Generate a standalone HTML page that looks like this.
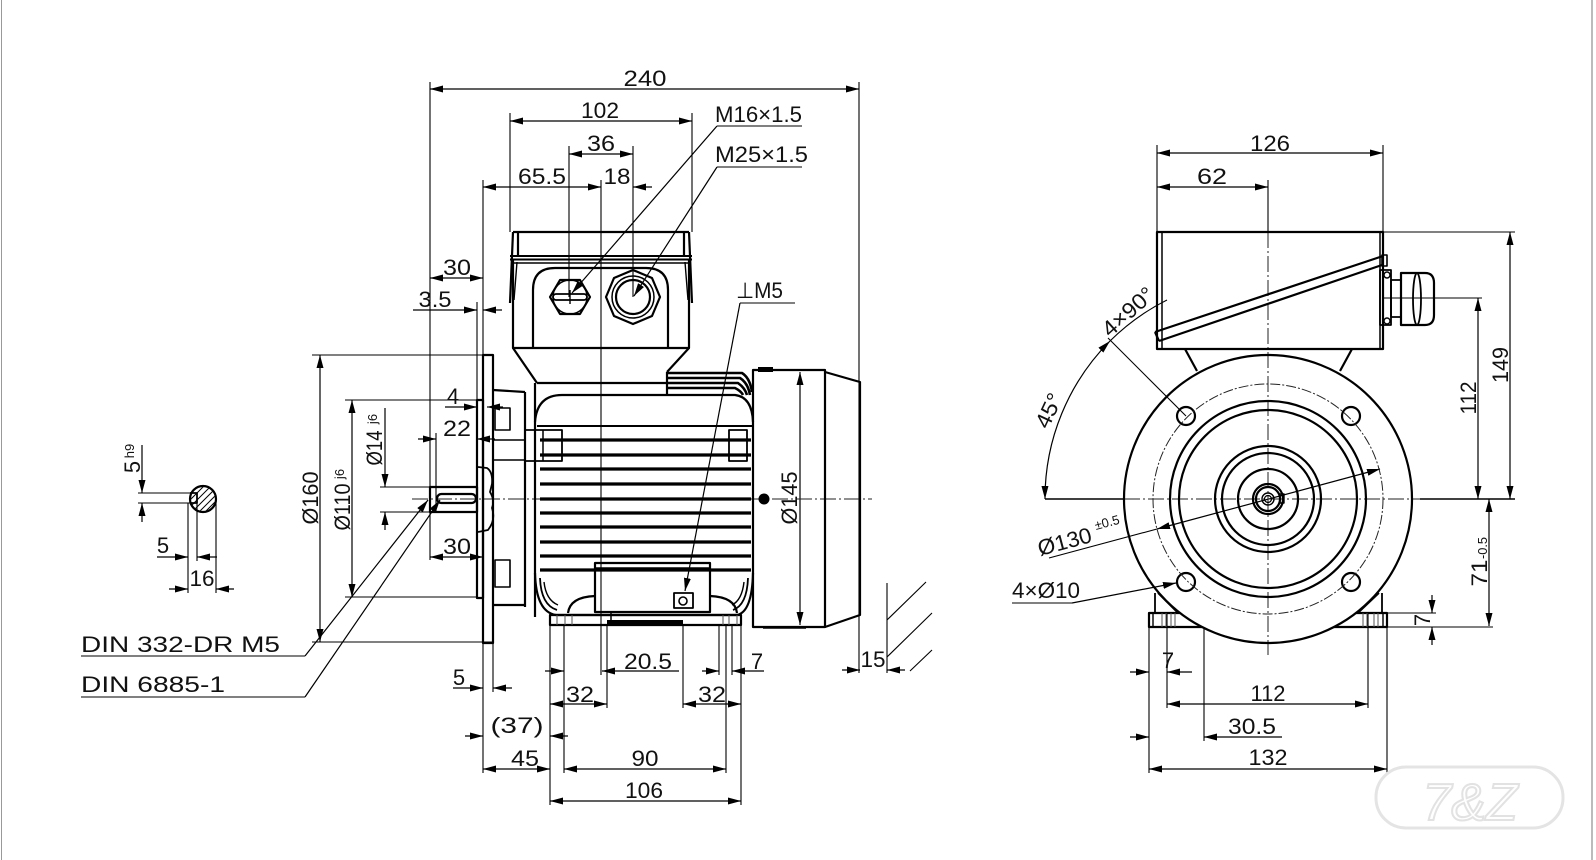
<!DOCTYPE html>
<html><head><meta charset="utf-8"><style>
html,body{margin:0;padding:0;background:#fff;}
svg{display:block;}
text{font-family:"Liberation Sans","DejaVu Sans",sans-serif;font-size:22px;fill:#111;}
.s{font-size:13px;}
</style></head><body>
<svg width="1596" height="860" viewBox="0 0 1596 860" xmlns="http://www.w3.org/2000/svg">
<defs>
<marker id="a" markerUnits="userSpaceOnUse" markerWidth="14" markerHeight="8" refX="13" refY="3.5" orient="auto-start-reverse"><path d="M0,0 L13,3.5 L0,7 z" fill="#000"/></marker>
<clipPath id="kc"><circle cx="203" cy="499" r="12"/></clipPath>
</defs>
<rect width="1596" height="860" fill="#fff"/>
<line x1="1.5" y1="0" x2="1.5" y2="860" stroke="#999" stroke-width="1"/>
<line x1="1592" y1="0" x2="1592" y2="860" stroke="#777" stroke-width="1"/>

<!-- ===== thin dimension lines with both arrows ===== -->
<g stroke="#000" stroke-width="1.2" fill="none" marker-start="url(#a)" marker-end="url(#a)">
<line x1="430" y1="89" x2="859" y2="89"/>
<line x1="510" y1="121" x2="692" y2="121"/>
<line x1="569" y1="154" x2="633" y2="154"/>
<line x1="483" y1="187" x2="601" y2="187"/>
<line x1="430" y1="278" x2="483" y2="278"/>
<line x1="320" y1="355" x2="320" y2="642"/>
<line x1="352" y1="400" x2="352" y2="597"/>
<line x1="430" y1="557" x2="483" y2="557"/>
<line x1="800" y1="372" x2="800" y2="625"/>
<line x1="550" y1="704" x2="607" y2="704"/>
<line x1="683" y1="704" x2="741" y2="704"/>
<line x1="483" y1="769" x2="550" y2="769"/>
<line x1="564" y1="769" x2="726" y2="769"/>
<line x1="550" y1="801" x2="741" y2="801"/>
<line x1="1157" y1="153" x2="1383" y2="153"/>
<line x1="1157" y1="187" x2="1268" y2="187"/>
<line x1="1510" y1="232" x2="1510" y2="499"/>
<line x1="1478" y1="298" x2="1478" y2="499"/>
<line x1="1489" y1="499" x2="1489" y2="626"/>
<line x1="1167" y1="704" x2="1368" y2="704"/>
<line x1="1149" y1="769" x2="1387" y2="769"/>
<line x1="1157" y1="529" x2="1380" y2="469"/>
<path d="M1110,341 A223,223 0 0 0 1045,499"/>
</g>

<!-- ===== single arrows ===== -->
<g stroke="#000" stroke-width="1.2" fill="none" marker-end="url(#a)">
<line x1="652" y1="187" x2="633" y2="187"/>
<line x1="413" y1="310" x2="477" y2="310"/>
<line x1="502" y1="310" x2="483" y2="310"/>
<line x1="445" y1="407" x2="477" y2="407"/>
<line x1="503" y1="407" x2="487" y2="407"/>
<line x1="418" y1="439" x2="436" y2="439"/>
<line x1="495" y1="439" x2="477" y2="439"/>
<line x1="385" y1="408" x2="385" y2="487"/>
<line x1="385" y1="530" x2="385" y2="512"/>
<line x1="453" y1="688" x2="483" y2="688"/>
<line x1="512" y1="688" x2="493" y2="688"/>
<line x1="545" y1="671" x2="564" y2="671"/>
<line x1="679" y1="671" x2="602" y2="671"/>
<line x1="702" y1="671" x2="719" y2="671"/>
<line x1="764" y1="671" x2="732" y2="671"/>
<line x1="465" y1="736" x2="483" y2="736"/>
<line x1="568" y1="736" x2="550" y2="736"/>
<line x1="842" y1="670" x2="860" y2="670"/>
<line x1="905" y1="670" x2="887" y2="670"/>
<line x1="717" y1="126" x2="572" y2="293"/>
<line x1="717" y1="167" x2="634" y2="296"/>
<line x1="740" y1="303" x2="685" y2="591"/>
<line x1="305" y1="656" x2="428" y2="500"/>
<line x1="305" y1="697" x2="440" y2="500"/>
<line x1="142" y1="445" x2="142" y2="493"/>
<line x1="142" y1="522" x2="142" y2="503"/>
<line x1="157" y1="557" x2="188" y2="557"/>
<line x1="217" y1="557" x2="197" y2="557"/>
<line x1="169" y1="589" x2="188" y2="589"/>
<line x1="234" y1="589" x2="216" y2="589"/>
<line x1="1432" y1="595" x2="1432" y2="613"/>
<line x1="1432" y1="645" x2="1432" y2="627"/>
<line x1="1130" y1="672" x2="1149" y2="672"/>
<line x1="1192" y1="672" x2="1167" y2="672"/>
<line x1="1130" y1="737" x2="1149" y2="737"/>
<line x1="1282" y1="737" x2="1204" y2="737"/>
<line x1="1072" y1="603" x2="1176" y2="583"/>
</g>

<!-- ===== plain thin lines (extension, leaders) ===== -->
<g stroke="#000" stroke-width="1.1" fill="none">
<line x1="430" y1="82" x2="430" y2="560"/>
<line x1="859" y1="82" x2="859" y2="673"/>
<line x1="510" y1="113" x2="510" y2="232"/>
<line x1="692" y1="113" x2="692" y2="232"/>
<line x1="569" y1="146" x2="569" y2="297"/>
<line x1="633" y1="146" x2="633" y2="297"/>
<line x1="483" y1="180" x2="483" y2="355"/>
<line x1="601" y1="180" x2="601" y2="675"/>
<line x1="477" y1="302" x2="477" y2="400"/>
<line x1="312" y1="355" x2="483" y2="355"/>
<line x1="312" y1="642" x2="493" y2="642"/>
<line x1="345" y1="400" x2="477" y2="400"/>
<line x1="345" y1="597" x2="477" y2="597"/>
<line x1="380" y1="487" x2="430" y2="487"/>
<line x1="380" y1="512" x2="430" y2="512"/>
<line x1="436" y1="433" x2="436" y2="513"/>
<line x1="483" y1="643" x2="483" y2="773"/>
<line x1="493" y1="643" x2="493" y2="692"/>
<line x1="550" y1="625" x2="550" y2="805"/>
<line x1="564" y1="625" x2="564" y2="773"/>
<line x1="726" y1="625" x2="726" y2="773"/>
<line x1="741" y1="625" x2="741" y2="805"/>
<line x1="607" y1="625" x2="607" y2="708"/>
<line x1="683" y1="625" x2="683" y2="708"/>
<line x1="719" y1="625" x2="719" y2="675"/>
<line x1="732" y1="625" x2="732" y2="675"/>
<line x1="887" y1="583" x2="887" y2="673"/>
<line x1="763" y1="628" x2="806" y2="628" stroke-width="1.6"/>
<line x1="717" y1="126" x2="802" y2="126"/>
<line x1="717" y1="167" x2="802" y2="167"/>
<line x1="740" y1="303" x2="795" y2="303"/>
<line x1="81" y1="656" x2="305" y2="656"/>
<line x1="81" y1="697" x2="305" y2="697"/>
<line x1="887" y1="620" x2="926" y2="582"/>
<line x1="887" y1="657" x2="932" y2="613"/>
<line x1="910" y1="671" x2="932" y2="650"/>
<line x1="138" y1="493" x2="190" y2="493"/>
<line x1="138" y1="503" x2="190" y2="503"/>
<line x1="188" y1="503" x2="188" y2="593"/>
<line x1="197" y1="503" x2="197" y2="561"/>
<line x1="216" y1="499" x2="216" y2="593"/>
<!-- right view -->
<line x1="1157" y1="145" x2="1157" y2="232"/>
<line x1="1383" y1="145" x2="1383" y2="232"/>
<line x1="1268" y1="180" x2="1268" y2="232"/>
<line x1="1383" y1="232" x2="1515" y2="232"/>
<line x1="1383" y1="298" x2="1482" y2="298"/>
<line x1="1387" y1="613" x2="1436" y2="613"/>
<line x1="1387" y1="627" x2="1493" y2="627"/>
<line x1="1149" y1="627" x2="1149" y2="773"/>
<line x1="1387" y1="627" x2="1387" y2="773"/>
<line x1="1167" y1="613" x2="1167" y2="708"/>
<line x1="1368" y1="613" x2="1368" y2="708"/>
<line x1="1204" y1="628" x2="1204" y2="741"/>
<line x1="1012" y1="603" x2="1072" y2="603"/>
<line x1="1049" y1="558" x2="1157" y2="529"/>
<line x1="1186" y1="416" x2="1108" y2="338"/>
<path d="M1167,300 A223,223 0 0 0 1110,341"/>
<line x1="1045" y1="499" x2="1124" y2="499" stroke-width="1.6"/>
<line x1="1420" y1="499" x2="1515" y2="499" stroke-width="1.6"/>
</g>

<!-- centerlines -->
<g stroke="#222" stroke-width="1" fill="none" stroke-dasharray="16 3 2 3">
<line x1="412" y1="499" x2="872" y2="499"/>
<line x1="1124" y1="499" x2="1420" y2="499"/>
<line x1="1268" y1="232" x2="1268" y2="655"/>
</g>

<!-- ===== LEFT VIEW thick outlines ===== -->
<g stroke="#000" stroke-width="2.2" fill="none" stroke-linejoin="round">
<!-- terminal box lid -->
<path d="M513,232 L689,232 M513,232 L510,303 M689,232 L692,303 M518,233 L518,257 M684,233 L684,257"/>
<path d="M510,256 L692,256 M510,259.5 L692,259.5" stroke-width="2"/>
<path d="M517,262 L514,300 M685,262 L688,300" stroke-width="1.4"/>
<line x1="513" y1="263" x2="689" y2="263" stroke-width="1.4"/>
<path d="M513,259 L513,348 L689,348 L689,259"/>
<path d="M533,348 L533,290 Q533,268 555,268 L646,268 Q668,268 668,290 L668,348"/>
<!-- M16 gland -->
<polygon points="590,297 580,314 560,314 550,297 560,280 580,280"/>
<circle cx="570" cy="297" r="17" stroke-width="1.4"/>
<rect x="553" y="294" width="34" height="6" rx="3" stroke-width="1.8"/>
<line x1="570" y1="290" x2="570" y2="304" stroke-width="1.4"/>
<!-- M25 gland -->
<polygon points="660,297 652,316 633,324 614,316 606,297 614,278 633,270 652,278" stroke-linejoin="round"/>
<circle cx="633" cy="297" r="21" stroke-width="1.5"/>
<circle cx="633" cy="297" r="17"/>
<!-- transition -->
<path d="M513,348 L537,383 M689,348 L667,372 M537,383 L667,383"/>
<!-- dark block near fan -->
<path d="M667,372 L667,395" />
<path d="M667,373 L742,373 Q750,378 752,392 M667,378 L740,378 Q748,383 750,395 M667,383 L738,383 Q745,388 747,395 M667,388 L735,388 Q741,391 743,395" stroke-width="2.6"/>
<!-- stator -->
<path d="M535,422 Q537,395 562,395 L735,395 Q752,397 753,422"/>
<line x1="535" y1="383" x2="535" y2="617"/>
<line x1="525" y1="392" x2="525" y2="607"/>
<line x1="493" y1="390" x2="525" y2="392"/>
<line x1="493" y1="605" x2="525" y2="605"/>
<line x1="493" y1="440" x2="525" y2="440" stroke-width="1.6"/>
<line x1="493" y1="460" x2="525" y2="460" stroke-width="1.6"/>
<rect x="495" y="408" width="15" height="22" stroke-width="1.6"/>
<rect x="495" y="560" width="15" height="27" stroke-width="1.6"/>
<rect x="525" y="430" width="37" height="31" stroke-width="1.8"/>
<line x1="543" y1="430" x2="543" y2="461" stroke-width="1.5"/>
<rect x="729" y="430" width="18" height="31" stroke-width="1.8"/>
<line x1="537" y1="426" x2="753" y2="426" stroke-width="2"/>
</g>
<g stroke="#000" stroke-width="3.2" fill="none">
<line x1="540" y1="440" x2="751" y2="440"/>
<line x1="540" y1="455" x2="751" y2="455"/>
<line x1="540" y1="469" x2="751" y2="469"/>
<line x1="540" y1="484" x2="751" y2="484"/>
<line x1="540" y1="499" x2="751" y2="499"/>
<line x1="540" y1="513" x2="751" y2="513"/>
<line x1="540" y1="527" x2="751" y2="527"/>
<line x1="540" y1="542" x2="751" y2="542"/>
<line x1="540" y1="556" x2="751" y2="556"/>
<line x1="540" y1="570" x2="751" y2="570"/>
</g>
<g stroke="#000" stroke-width="2.2" fill="none" stroke-linejoin="round">
<path d="M535,573 Q536,612 556,615 L737,615 Q752,612 753,573"/>
<path d="M540,578 Q541,605 557,610 M748,578 Q747,605 733,610" stroke-width="1.8"/>
<path d="M544,582 Q546,600 558,605 M744,582 Q742,600 732,605" stroke-width="1.4"/>
<rect x="595" y="563" width="115" height="49"/>
<line x1="595" y1="568" x2="710" y2="568" stroke-width="1.6"/>
<path d="M568,613 Q570,597 595,596 M710,596 Q735,597 737,613"/>
<rect x="674" y="593" width="19" height="15" stroke-width="1.8"/>
<circle cx="683" cy="601" r="4" stroke-width="1.6"/>
<!-- feet -->
<rect x="550" y="615" width="191" height="10"/>
<line x1="611" y1="612" x2="611" y2="620" stroke-width="1.5"/>
<!-- flange -->
<rect x="483" y="355" width="10" height="288"/>
<rect x="477" y="400" width="6" height="198"/>
<path d="M478,467 L487,468 Q493,472 492,484 L490,492 Q495,500 492,508 Q496,520 488,530 L478,532" stroke-width="1.8"/>
<!-- shaft -->
<rect x="430" y="487" width="47" height="25"/>
<rect x="437" y="494" width="39" height="9" rx="4.5"/>
<!-- fan cover -->
<rect x="753" y="370" width="72" height="257"/>
<path d="M825,372 L860,382 L860,615 L825,627"/>
<!-- key detail -->
<circle cx="203" cy="499" r="13"/>
<path d="M190,493 L197,493 L197,503 L190,503" stroke-width="1.8"/>
</g>
<rect x="607" y="620" width="76" height="6" fill="#000"/>
<rect x="758" y="367" width="15" height="5" fill="#000"/>
<circle cx="764" cy="499" r="5.5" fill="#000"/>
<g stroke="#555" stroke-width="1">
<line x1="557" y1="615" x2="557" y2="625"/><line x1="565" y1="615" x2="565" y2="625"/><line x1="572" y1="615" x2="572" y2="625"/>
<line x1="723" y1="615" x2="723" y2="625"/><line x1="729" y1="615" x2="729" y2="625"/><line x1="737" y1="615" x2="737" y2="625"/>
</g>
<g stroke="#000" stroke-width="1" clip-path="url(#kc)">
<line x1="190" y1="500" x2="210" y2="480"/><line x1="192" y1="505" x2="217" y2="480"/>
<line x1="195" y1="509" x2="222" y2="482"/><line x1="199" y1="512" x2="224" y2="487"/>
<line x1="203" y1="514" x2="226" y2="491"/><line x1="208" y1="515" x2="226" y2="497"/>
</g>

<!-- ===== RIGHT VIEW thick ===== -->
<g stroke="#000" stroke-width="2.2" fill="none" stroke-linejoin="round">
<rect x="1157" y="232" width="226" height="117"/>
<line x1="1162" y1="232" x2="1162" y2="349" stroke-width="1.5"/>
<line x1="1380" y1="232" x2="1380" y2="349" stroke-width="1.5"/>
<path d="M1155,332 L1383,256 M1159,341 L1382,265 M1155,332 L1159,341"/>
<rect x="1382" y="255" width="5" height="11" stroke-width="1.6"/>
<rect x="1380" y="270" width="11" height="55" stroke-width="1.8"/>
<rect x="1391" y="280" width="10" height="37" stroke-width="1.8"/>
<path d="M1401,273 L1425,273 Q1434,273 1434,283 L1434,315 Q1434,325 1425,325 L1401,325 Z"/>
<ellipse cx="1417" cy="299" rx="4" ry="26" stroke-width="1.8"/>
<circle cx="1387" cy="275" r="3" stroke-width="1.4"/>
<circle cx="1387" cy="321" r="3" stroke-width="1.4"/>
<path d="M1185,349 L1197,371 M1352,349 L1340,371"/>
<circle cx="1268" cy="499" r="144"/>
<circle cx="1268" cy="499" r="98"/>
<circle cx="1268" cy="499" r="89"/>
<circle cx="1268" cy="499" r="53"/>
<circle cx="1268" cy="499" r="46"/>
<circle cx="1268" cy="499" r="30"/>
<circle cx="1268" cy="499" r="15"/>
<circle cx="1268" cy="499" r="12"/>
<circle cx="1268" cy="499" r="6" stroke-width="1.4"/>
<circle cx="1268" cy="499" r="3.5" stroke-width="1.2"/>
<rect x="1280" y="494" width="4" height="9" stroke-width="1.4"/>
<circle cx="1186" cy="416" r="9"/>
<circle cx="1351" cy="416" r="9"/>
<circle cx="1186" cy="582" r="9"/>
<circle cx="1351" cy="582" r="9"/>
<!-- feet -->
<path d="M1180,613 L1149,613 L1149,627 L1202,627 M1356,613 L1387,613 L1387,627 L1334,627"/>
<path d="M1153,613 L1153,627 M1383,613 L1383,627" stroke-width="1.4"/>
<path d="M1155,593 L1155,613 M1158,593 L1177,612 M1382,593 L1382,613 M1379,593 L1359,612" stroke-width="1.8"/>
</g>
<circle cx="1268" cy="499" r="115" stroke="#222" stroke-width="1" fill="none" stroke-dasharray="10 2 2 2"/>
<g stroke="#555" stroke-width="1">
<line x1="1162" y1="613" x2="1162" y2="627"/><line x1="1166" y1="613" x2="1166" y2="627"/><line x1="1171" y1="613" x2="1171" y2="627"/><line x1="1175" y1="613" x2="1175" y2="627"/>
<line x1="1363" y1="613" x2="1363" y2="627"/><line x1="1367" y1="613" x2="1367" y2="627"/><line x1="1374" y1="613" x2="1374" y2="627"/><line x1="1378" y1="613" x2="1378" y2="627"/>
</g>

<!-- logo (faint) -->
<g stroke="#e4e4e4" stroke-width="3" fill="none">
<rect x="1376" y="767" width="187" height="61" rx="30"/>
</g>
<text x="1470" y="820" text-anchor="middle" style="font-size:52px;font-style:italic;fill:none;stroke:#e2e2e2;stroke-width:2">7&amp;Z</text>

<!-- ===== TEXT ===== -->
<text x="645" y="86" text-anchor="middle" textLength="43" lengthAdjust="spacingAndGlyphs">240</text>
<text x="600" y="118" text-anchor="middle" textLength="38" lengthAdjust="spacingAndGlyphs">102</text>
<text x="601" y="151" text-anchor="middle" textLength="28" lengthAdjust="spacingAndGlyphs">36</text>
<text x="542" y="184" text-anchor="middle" textLength="48" lengthAdjust="spacingAndGlyphs">65.5</text>
<text x="617" y="184" text-anchor="middle" textLength="27" lengthAdjust="spacingAndGlyphs">18</text>
<text x="457" y="275" text-anchor="middle" textLength="28" lengthAdjust="spacingAndGlyphs">30</text>
<text x="435" y="307" text-anchor="middle" textLength="33" lengthAdjust="spacingAndGlyphs">3.5</text>
<text x="715" y="122" textLength="87" lengthAdjust="spacingAndGlyphs">M16×1.5</text>
<text x="715" y="162" textLength="93" lengthAdjust="spacingAndGlyphs">M25×1.5</text>
<text x="736" y="298" textLength="47" lengthAdjust="spacingAndGlyphs">⊥M5</text>
<text x="453" y="404" text-anchor="middle">4</text>
<text x="457" y="436" text-anchor="middle" textLength="28" lengthAdjust="spacingAndGlyphs">22</text>
<text x="457" y="554" text-anchor="middle" textLength="28" lengthAdjust="spacingAndGlyphs">30</text>
<text x="81" y="652" textLength="199" lengthAdjust="spacingAndGlyphs">DIN 332-DR M5</text>
<text x="81" y="692" textLength="144" lengthAdjust="spacingAndGlyphs">DIN 6885-1</text>
<text x="163" y="553" text-anchor="middle">5</text>
<text x="202" y="586" text-anchor="middle" textLength="25" lengthAdjust="spacingAndGlyphs">16</text>
<text x="459" y="685" text-anchor="middle">5</text>
<text x="648" y="669" text-anchor="middle" textLength="48" lengthAdjust="spacingAndGlyphs">20.5</text>
<text x="757" y="669" text-anchor="middle">7</text>
<text x="580" y="702" text-anchor="middle" textLength="28" lengthAdjust="spacingAndGlyphs">32</text>
<text x="712" y="702" text-anchor="middle" textLength="28" lengthAdjust="spacingAndGlyphs">32</text>
<text x="517" y="733" text-anchor="middle" textLength="53" lengthAdjust="spacingAndGlyphs">(37)</text>
<text x="525" y="766" text-anchor="middle" textLength="28" lengthAdjust="spacingAndGlyphs">45</text>
<text x="645" y="766" text-anchor="middle" textLength="27" lengthAdjust="spacingAndGlyphs">90</text>
<text x="644" y="798" text-anchor="middle" textLength="38" lengthAdjust="spacingAndGlyphs">106</text>
<text x="873" y="667" text-anchor="middle" textLength="25" lengthAdjust="spacingAndGlyphs">15</text>

<text transform="translate(318,498) rotate(-90)" text-anchor="middle" textLength="53" lengthAdjust="spacingAndGlyphs">Ø160</text>
<text transform="translate(350,507) rotate(-90)" text-anchor="middle" textLength="47" lengthAdjust="spacingAndGlyphs">Ø110</text>
<text class="s" transform="translate(344,474) rotate(-90)" text-anchor="middle">j6</text>
<text transform="translate(382,448) rotate(-90)" text-anchor="middle" textLength="35" lengthAdjust="spacingAndGlyphs">Ø14</text>
<text class="s" transform="translate(377,419) rotate(-90)" text-anchor="middle">j6</text>
<text transform="translate(797,498) rotate(-90)" text-anchor="middle" textLength="53" lengthAdjust="spacingAndGlyphs">Ø145</text>
<text transform="translate(140,467) rotate(-90)" text-anchor="middle">5</text>
<text class="s" transform="translate(134,451) rotate(-90)" text-anchor="middle">h9</text>

<text x="1270" y="151" text-anchor="middle" textLength="40" lengthAdjust="spacingAndGlyphs">126</text>
<text x="1212" y="184" text-anchor="middle" textLength="30" lengthAdjust="spacingAndGlyphs">62</text>
<text transform="translate(1508,365) rotate(-90)" text-anchor="middle" textLength="36" lengthAdjust="spacingAndGlyphs">149</text>
<text transform="translate(1476,398) rotate(-90)" text-anchor="middle" textLength="33" lengthAdjust="spacingAndGlyphs">112</text>
<text transform="translate(1430,620) rotate(-90)" text-anchor="middle">7</text>
<text transform="translate(1487,573) rotate(-90)" text-anchor="middle" textLength="27" lengthAdjust="spacingAndGlyphs">71</text>
<text class="s" transform="translate(1487,548) rotate(-90)" text-anchor="middle" textLength="22" lengthAdjust="spacingAndGlyphs">-0.5</text>
<text x="1268" y="701" text-anchor="middle" textLength="35" lengthAdjust="spacingAndGlyphs">112</text>
<text x="1252" y="734" text-anchor="middle" textLength="48" lengthAdjust="spacingAndGlyphs">30.5</text>
<text x="1268" y="765" text-anchor="middle" textLength="39" lengthAdjust="spacingAndGlyphs">132</text>
<text x="1168" y="668" text-anchor="middle">7</text>
<text x="1012" y="598" textLength="68" lengthAdjust="spacingAndGlyphs">4×Ø10</text>
<text transform="translate(1040,556) rotate(-15)" textLength="55" lengthAdjust="spacingAndGlyphs">Ø130</text>
<text class="s" transform="translate(1096,530) rotate(-15)">±0.5</text>
<text transform="translate(1048,430) rotate(-65)" textLength="36" lengthAdjust="spacingAndGlyphs">45°</text>
<text transform="translate(1110,338) rotate(-42)" textLength="62" lengthAdjust="spacingAndGlyphs">4×90°</text>
</svg>
</body></html>
